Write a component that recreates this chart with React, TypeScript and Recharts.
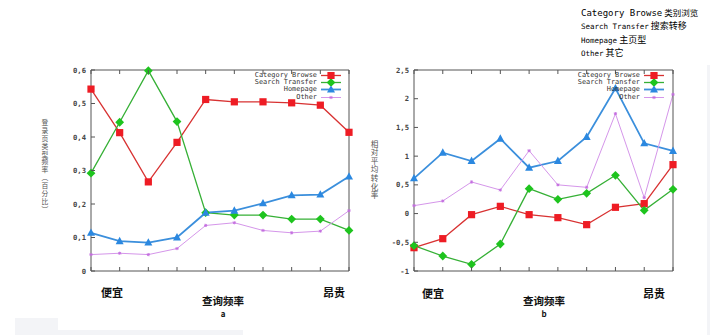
import { LineChart, Line, XAxis, YAxis } from 'recharts';

const positions = [0, 1, 2, 3, 4, 5, 6, 7, 8, 9];

// 图 a：登录页类型频率
const browseA = [0.543, 0.413, 0.266, 0.384, 0.512, 0.505, 0.505, 0.502, 0.495, 0.414];
const transferA = [0.292, 0.444, 0.598, 0.446, 0.174, 0.167, 0.167, 0.155, 0.155, 0.121];
const homepageA = [0.114, 0.089, 0.085, 0.1, 0.174, 0.18, 0.202, 0.226, 0.228, 0.282];
const otherA = [0.049, 0.053, 0.049, 0.067, 0.136, 0.144, 0.121, 0.114, 0.119, 0.18];

// 图 b：相对平均转化率
const browseB = [-0.594, -0.437, -0.019, 0.126, -0.019, -0.071, -0.193, 0.109, 0.173, 0.852];
const transferB = [-0.559, -0.739, -0.884, -0.53, 0.434, 0.248, 0.352, 0.666, 0.056, 0.422];
const homepageB = [0.614, 1.06, 0.915, 1.304, 0.799, 0.915, 1.333, 2.181, 1.223, 1.09];
const otherB = [0.138, 0.219, 0.55, 0.41, 1.095, 0.5, 0.457, 1.74, 0.277, 2.076];

const ticksA = [0, 0.1, 0.2, 0.3, 0.4, 0.5, 0.6];
const ticksB = [-1, -0.5, 0, 0.5, 1, 1.5, 2, 2.5];

const seriesNames = ['Category Browse', 'Search Transfer', 'Homepage', 'Other'];
const zhNames = ['类别浏览', '搜索转移', '主页型', '其它'];

const SERIES = [
  { key: 'browse', line: '#d83232', mark: '#ee1c24', shape: 'square', width: 1.3 },
  { key: 'transfer', line: '#36b036', mark: '#1ec41e', shape: 'diamond', width: 1.3 },
  { key: 'homepage', line: '#3b8fdc', mark: '#2b88e0', shape: 'triangle', width: 1.8 },
  { key: 'other', line: '#d596ea', mark: '#c46ee0', shape: 'star', width: 1 },
];

const AXIS = '#555';
const MONO = '"DejaVu Sans Mono", "Liberation Mono", monospace';
const CJK = '"Noto Sans CJK SC", sans-serif';

const fmt = (v: number) => String(v).replace('.', ',');

function buildRows(b: number[], t: number[], h: number[], o: number[]) {
  return positions.map((i) => ({ i, browse: b[i], transfer: t[i], homepage: h[i], other: o[i] }));
}

const dataA = buildRows(browseA, transferA, homepageA, otherA);
const dataB = buildRows(browseB, transferB, homepageB, otherB);

function Marker({ shape, cx, cy, color }: { shape: string; cx: number; cy: number; color: string }) {
  if (shape === 'square') {
    return <rect x={cx - 3.6} y={cy - 3.6} width={7.2} height={7.2} fill={color} />;
  }
  if (shape === 'diamond') {
    return (
      <polygon
        points={`${cx},${cy - 4.4} ${cx + 4.4},${cy} ${cx},${cy + 4.4} ${cx - 4.4},${cy}`}
        fill={color}
      />
    );
  }
  if (shape === 'triangle') {
    return (
      <polygon points={`${cx},${cy - 4.4} ${cx + 4},${cy + 3} ${cx - 4},${cy + 3}`} fill={color} />
    );
  }
  return (
    <g stroke={color} strokeWidth={0.9}>
      <line x1={cx - 1.6} x2={cx + 1.6} y1={cy} y2={cy} />
      <line x1={cx} x2={cx} y1={cy - 1.6} y2={cy + 1.6} />
      <line x1={cx - 1.2} x2={cx + 1.2} y1={cy - 1.2} y2={cy + 1.2} />
      <line x1={cx - 1.2} x2={cx + 1.2} y1={cy + 1.2} y2={cy - 1.2} />
    </g>
  );
}

const leftTick = (props: any) => {
  const { x, y, payload } = props;
  return (
    <g>
      <line x1={x} x2={x + 4} y1={y} y2={y} stroke={AXIS} />
      <text
        x={x - 5}
        y={y}
        dy={2.5}
        textAnchor="end"
        fontSize={7.2}
        fontFamily={MONO}
        fontWeight="bold"
        fill="#444"
      >
        {fmt(payload.value)}
      </text>
    </g>
  );
};
const rightTick = (props: any) => (
  <line x1={props.x - 4} x2={props.x} y1={props.y} y2={props.y} stroke={AXIS} />
);
const bottomTick = (props: any) => (
  <line x1={props.x} x2={props.x} y1={props.y} y2={props.y - 4} stroke={AXIS} />
);
const topTick = (props: any) => (
  <line x1={props.x} x2={props.x} y1={props.y} y2={props.y + 4} stroke={AXIS} />
);

function Panel({
  data,
  domain,
  ticks,
  width,
  yWidth,
  right,
}: {
  data: any[];
  domain: [number, number];
  ticks: number[];
  width: number;
  yWidth: number;
  right: number;
}) {
  return (
    <LineChart width={width} height={280} data={data} margin={{ top: 69, right, left: 0, bottom: 0 }}>
      <XAxis
        dataKey="i"
        type="number"
        domain={[0, 9]}
        ticks={positions}
        height={9}
        tickSize={0}
        tickMargin={0}
        tick={bottomTick}
        axisLine={{ stroke: AXIS }}
      />
      <XAxis
        xAxisId="t"
        orientation="top"
        dataKey="i"
        type="number"
        domain={[0, 9]}
        ticks={positions}
        height={1}
        tickSize={0}
        tickMargin={0}
        tick={topTick}
        axisLine={{ stroke: AXIS }}
      />
      <YAxis
        type="number"
        domain={domain}
        ticks={ticks}
        width={yWidth}
        tickSize={0}
        tickMargin={0}
        tick={leftTick}
        axisLine={{ stroke: AXIS }}
        interval={0}
      />
      <YAxis
        yAxisId="r"
        orientation="right"
        type="number"
        domain={domain}
        ticks={ticks}
        width={1}
        tickSize={0}
        tickMargin={0}
        tick={rightTick}
        axisLine={{ stroke: AXIS }}
        interval={0}
      />
      {SERIES.map((s) => (
        <Line
          key={s.key}
          type="linear"
          dataKey={s.key}
          stroke={s.line}
          strokeWidth={s.width}
          isAnimationActive={false}
          dot={(p: any) => <Marker key={`${s.key}-${p.index}`} shape={s.shape} cx={p.cx} cy={p.cy} color={s.mark} />}
          activeDot={false}
        />
      ))}
    </LineChart>
  );
}

function KeyBox({ right, top }: { right: number; top: number }) {
  return (
    <div style={{ position: 'absolute', left: right - 130, top, width: 155 }}>
      {SERIES.map((s, idx) => (
        <div key={s.key} style={{ display: 'flex', alignItems: 'center', height: 7.2 }}>
          <div
            style={{
              width: 130,
              textAlign: 'right',
              fontFamily: MONO,
              fontSize: 6.9,
              lineHeight: '7.2px',
              color: '#333',
            }}
          >
            {seriesNames[idx]}
          </div>
          <svg width={25} height={7} style={{ display: 'block' }}>
            <line x1={4} x2={24} y1={3.5} y2={3.5} stroke={s.line} strokeWidth={s.width} />
            <Marker shape={s.shape} cx={14} cy={3.5} color={s.mark} />
          </svg>
        </div>
      ))}
    </div>
  );
}

function VLabel({ text, x, top, size, gap }: { text: string; x: number; top: number; size: number; gap: number }) {
  return (
    <div
      style={{
        position: 'absolute',
        left: x - 6,
        top,
        width: 12,
        fontFamily: CJK,
        fontSize: size,
        lineHeight: '12px',
        letterSpacing: gap,
        writingMode: 'vertical-rl',
        textOrientation: 'upright',
        color: '#555',
        whiteSpace: 'nowrap',
      }}
    >
      {text}
    </div>
  );
}

function Label({ text, x, y, size, bold = true }: { text: string; x: number; y: number; size: number; bold?: boolean }) {
  return (
    <div
      style={{
        position: 'absolute',
        left: x,
        top: y,
        transform: 'translate(-50%, -50%)',
        fontFamily: CJK,
        fontSize: size,
        fontWeight: bold ? 'bold' : 'normal',
        whiteSpace: 'nowrap',
        lineHeight: 1,
        color: '#111',
      }}
    >
      {text}
    </div>
  );
}

export default function App() {
  return (
    <div
      style={{
        position: 'absolute',
        left: 0,
        top: 0,
        width: 718,
        height: 335,
        background: '#fff',
        overflow: 'hidden',
      }}
    >
      {/* faint scan edges */}
      <div style={{ position: 'absolute', left: 15, top: 318, width: 43, height: 17, background: '#f3f4f7' }} />
      <div style={{ position: 'absolute', left: 15, top: 330, width: 228, height: 5, background: '#f3f4f7' }} />
      <div style={{ position: 'absolute', left: 707, top: 65, width: 3, height: 270, background: '#f3f4f7' }} />

      <div style={{ position: 'absolute', left: 0, top: 0 }}>
        <Panel data={dataA} domain={[0, 0.6]} ticks={ticksA} width={360} yWidth={91} right={10} />
      </div>
      <div style={{ position: 'absolute', left: 360, top: 0 }}>
        <Panel data={dataB} domain={[-1, 2.5]} ticks={ticksB} width={340} yWidth={54} right={26} />
      </div>

      <KeyBox right={317} top={72} />
      <KeyBox right={640} top={72} />

      <VLabel text="登录页类型频率（百分比）" x={45} top={119} size={6.8} gap={1.1} />
      <VLabel text="相对平均转化率" x={374} top={140} size={7.6} gap={1} />

      <Label text="便宜" x={112} y={292} size={11} />
      <Label text="昂贵" x={334} y={292} size={11} />
      <Label text="查询频率" x={223} y={300.5} size={10.5} />
      <Label text="a" x={223} y={313.5} size={8} />
      <Label text="便宜" x={433} y={293} size={11} />
      <Label text="昂贵" x={654} y={293} size={11} />
      <Label text="查询频率" x={544} y={300.5} size={10.5} />
      <Label text="b" x={544} y={314} size={8} />

      <div style={{ position: 'absolute', left: 581, top: 4, color: '#000', whiteSpace: 'nowrap' }}>
        {seriesNames.map((n, idx) => (
          <div key={n} style={{ height: 13.3, lineHeight: '13.3px' }}>
            <span style={{ fontFamily: MONO, fontSize: idx === 0 ? 9 : 7.5 }}>{n}</span>
            <span style={{ fontFamily: CJK, fontSize: idx === 0 ? 8.5 : 9 }}> {zhNames[idx]}</span>
          </div>
        ))}
      </div>
    </div>
  );
}
